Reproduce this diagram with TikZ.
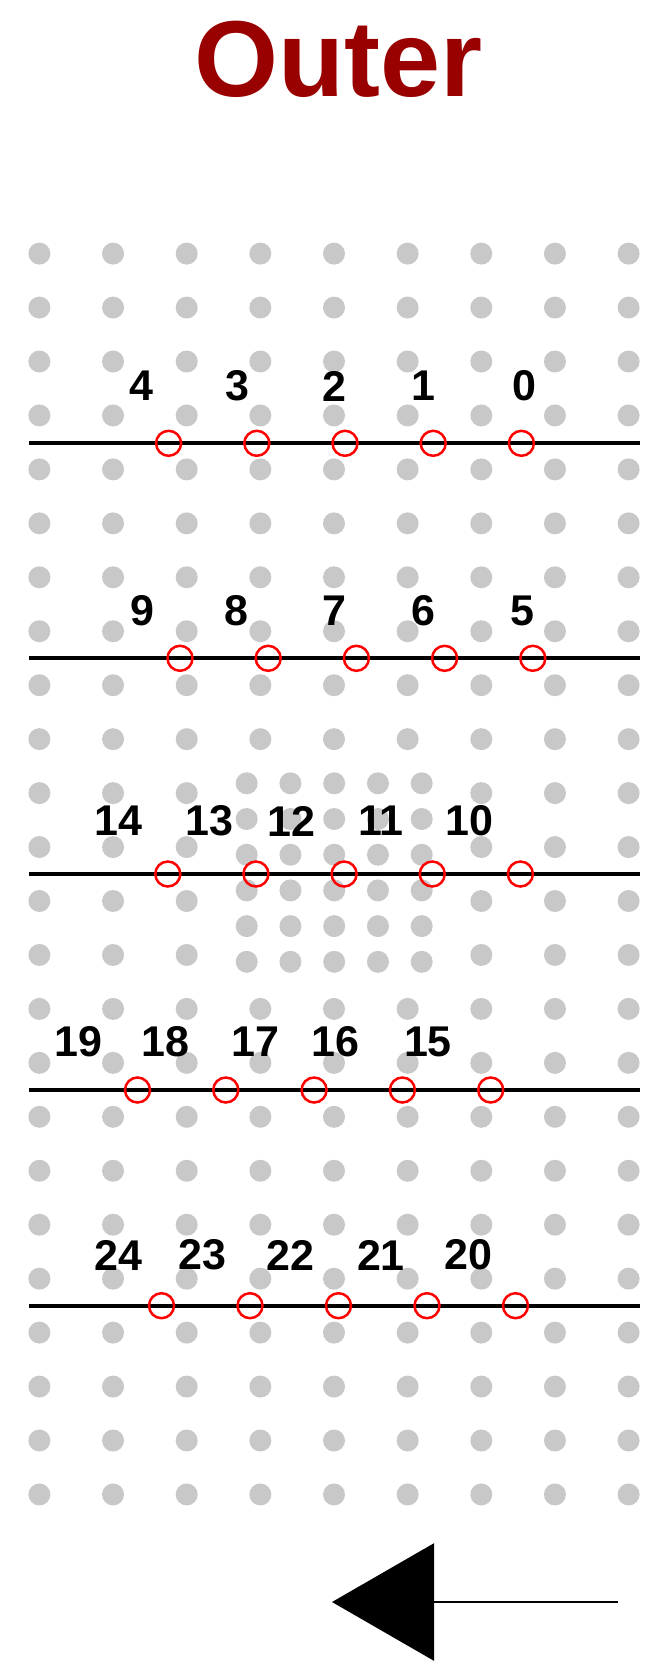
\documentclass[tikz,border=0pt]{standalone}
\usepackage{fontspec}
\setmainfont{Liberation Sans}
\usetikzlibrary{arrows.meta}
\definecolor{dotgray}{RGB}{200,200,200}
\definecolor{titlered}{RGB}{153,0,0}
\definecolor{ringred}{RGB}{255,0,0}
\begin{document}
\begin{tikzpicture}[x=1pt,y=-1pt,
  griddot/.style={fill=dotgray},
  railline/.style={line width=4pt,black},
  ring/.style={circle,draw=ringred,line width=2.5pt,minimum size=25pt,inner sep=0pt},
  numlabel/.style={font=\fontsize{43}{43}\selectfont\bfseries,inner sep=0pt,text=black},
  titletext/.style={font=\fontsize{108}{108}\selectfont\bfseries,text=titlered,inner sep=0pt,anchor=base},
  arrowline/.style={line width=2.6pt,black,-{Triangle[length=102pt,width=117pt]}}]
\useasboundingbox (0,0) rectangle (666,1671);
% title
\node[titletext] (title) at (338.3,96) {Outer};
% regular grid of dots
\foreach \c in {0,...,8}{
  \foreach \r in {0,...,23}{
    \pgfmathtruncatemacro{\skipit}{(\c>2)&&(\c<6)&&(\r>9)&&(\r<14)}
    \ifnum\skipit=0
      \fill[griddot] ({39.4+73.65*\c},{253.6+53.95*\r}) circle[radius=11pt];
    \fi
  }
}
% denser patch of dots
\foreach \j in {0,...,4}{
  \foreach \k in {0,...,5}{
    \fill[griddot] ({246.7+43.75*\j},{783.3+35.7*\k}) circle[radius=11pt];
  }
}
% rails with rings
\foreach \ly/\cx/\sp/\rowid in {443.3/168.6/88.2/1, 658.3/180/88.2/2, 874/167.8/88.15/3, 1090/137.5/88.3/4, 1305.7/161.5/88.5/5}{
  \coordinate (line\rowid w) at (29,\ly);
  \coordinate (line\rowid e) at (639.5,\ly);
  \draw[railline] (line\rowid w) -- (line\rowid e);
  \foreach \i in {0,...,4}{
    \node[ring] (ring\rowid-\i) at ({\cx+\sp*\i},\ly) {};
  }
}
% labels
\foreach \t/\lx/\lyy in {4/141.7/386, 3/237.8/386, 2/334/386, 1/423/386, 0/524/386,
  9/142.3/611, 8/236.1/611, 7/334/611, 6/423.7/611, 5/522/611,
  14/118.5/821, 13/209.9/821, 12/291.7/821, 11/381/821, 10/469.4/821,
  19/78.3/1041.5, 18/165.8/1041.5, 17/255.8/1041.5, 16/335.6/1041.5, 15/428/1041.5,
  24/118.3/1255, 23/202.5/1255, 22/290.8/1255, 21/381/1255, 20/468.4/1255}{
  \node[numlabel] (lab\t) at (\lx,\lyy) {\t};
}
% arrow
\coordinate (arrowtail) at (618,1602);
\coordinate (arrowtip) at (332,1602);
\draw[arrowline] (arrowtail) -- (arrowtip);
\end{tikzpicture}
\end{document}
